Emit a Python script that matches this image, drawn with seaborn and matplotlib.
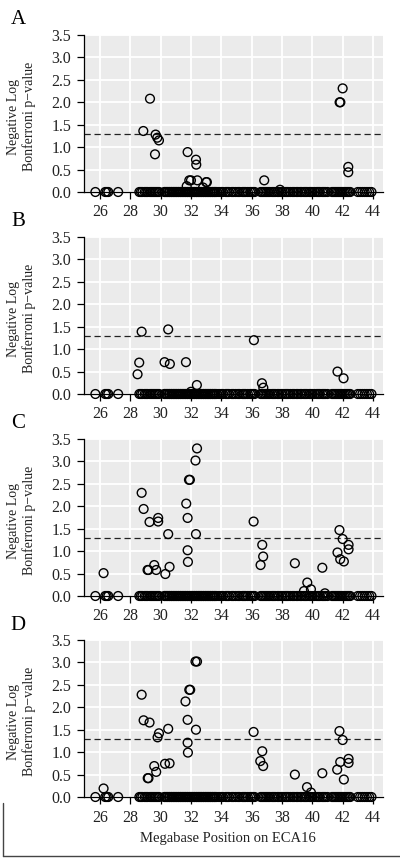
import matplotlib
matplotlib.use("Agg")
import matplotlib.pyplot as plt
from matplotlib.lines import Line2D
import seaborn as sns
import pandas as pd

# Markers with -log10 p = 0 (shared by all four panels), Mb on ECA16
zero_pos = [25.7, 26.35, 26.45, 26.55, 27.2,
            28.6, 28.7, 28.8, 28.95, 29.05, 29.15, 29.3, 29.4, 29.5, 29.6, 29.7, 29.8, 29.9,
            30.25, 30.3, 30.4, 30.45, 30.55, 30.6, 30.7, 30.75, 30.85, 30.9, 31.0, 31.05,
            31.15, 31.2, 31.3, 31.35, 31.45, 31.5, 31.6, 31.65, 31.75, 31.8, 31.9, 31.95,
            32.05, 32.1, 32.2, 32.25, 32.35, 32.4, 32.5, 32.55, 32.65, 32.7, 32.8, 32.85,
            32.95, 33.0, 33.1, 33.15, 33.25, 33.3, 33.4, 33.45, 33.55, 33.6, 33.7,
            33.85, 34.0, 34.1, 34.3, 34.4, 34.5, 34.7, 34.8, 34.95, 35.1, 35.2, 35.4,
            35.5, 35.6, 35.75, 35.9, 36.0, 36.1, 36.2,
            36.6, 36.7, 36.8, 36.9, 37.0, 37.1, 37.2, 37.35, 37.45, 37.55, 37.7, 37.8,
            37.95, 38.05, 38.2, 38.3, 38.4, 38.55, 38.7, 38.8, 38.95, 39.05, 39.2, 39.3,
            39.45, 39.55, 39.65, 39.8, 39.9, 40.0, 40.15, 40.3, 40.4, 40.5, 40.65, 40.75,
            40.85, 41.0, 41.3, 41.4, 41.5, 41.6, 41.7, 41.8, 41.9, 42.0, 42.1, 42.2,
            42.3, 42.4, 42.5,
            43.0, 43.15, 43.3, 43.45, 43.6, 43.75, 43.9]

# Non-zero markers per panel
a_x = [28.86, 29.30, 29.63, 29.67, 29.78, 29.89, 31.78, 31.72, 31.89, 32.0, 32.33, 32.35,
       32.42, 32.8, 33.0, 33.05, 36.83, 37.87, 41.80, 41.85, 42.0, 42.37, 42.37]
a_y = [1.36, 2.08, 0.84, 1.28, 1.21, 1.15, 0.89, 0.13, 0.26, 0.26, 0.72, 0.61,
       0.26, 0.10, 0.22, 0.22, 0.26, 0.05, 2.0, 2.0, 2.31, 0.56, 0.44]

b_x = [28.75, 28.59, 28.48, 30.50, 30.26, 30.61, 31.67, 32.39, 32.0, 36.15, 36.68, 36.77,
       41.66, 42.06]
b_y = [1.39, 0.70, 0.44, 1.44, 0.71, 0.67, 0.71, 0.20, 0.05, 1.20, 0.24, 0.14,
       0.50, 0.35]

c_x = [26.24, 28.75, 28.88, 29.14, 29.2, 29.27, 29.58, 29.71, 29.84, 29.84, 30.31, 30.50,
       30.59, 31.69, 31.78, 31.78, 31.80, 31.87, 31.93, 32.30, 32.40, 32.33, 36.13, 36.70,
       36.59, 36.76, 38.85, 39.67, 39.45, 39.91, 40.66, 40.83, 41.79, 41.66, 41.84, 42.0,
       42.08, 42.39, 42.39]
c_y = [0.51, 2.30, 1.94, 0.58, 0.58, 1.65, 0.69, 0.58, 1.74, 1.66, 0.49, 1.38,
       0.65, 2.06, 1.74, 1.02, 0.76, 2.59, 2.59, 3.02, 3.29, 1.38, 1.66, 1.14,
       0.69, 0.88, 0.73, 0.30, 0.11, 0.15, 0.63, 0.06, 1.47, 0.97, 0.82, 1.27,
       0.77, 1.14, 1.04]

d_x = [26.24, 28.75, 28.88, 29.15, 29.2, 29.27, 29.58, 29.71, 29.89, 29.8, 30.29, 30.59,
       30.50, 31.64, 31.78, 31.78, 31.80, 31.89, 31.95, 32.30, 32.40, 32.33, 36.13, 36.70,
       36.57, 36.76, 38.85, 39.65, 39.91, 40.66, 41.79, 41.64, 41.84, 42.0, 42.08, 42.39,
       42.39]
d_y = [0.19, 2.28, 1.71, 0.42, 0.42, 1.66, 0.69, 0.56, 1.42, 1.33, 0.74, 0.75,
       1.52, 2.13, 1.72, 1.21, 0.99, 2.39, 2.39, 3.02, 3.02, 1.50, 1.45, 1.02,
       0.80, 0.69, 0.50, 0.22, 0.10, 0.53, 1.47, 0.61, 0.78, 1.27, 0.39, 0.85,
       0.76]

panels = ["A", "B", "C", "D"]
panel_x = [a_x, b_x, c_x, d_x]
panel_y = [a_y, b_y, c_y, d_y]
threshold = 1.3
x_ticks = [26, 28, 30, 32, 34, 36, 38, 40, 42, 44]
y_ticks = [0.0, 0.5, 1.0, 1.5, 2.0, 2.5, 3.0, 3.5]

sns.set_style("darkgrid", {"axes.facecolor": "#EBEBEB", "grid.color": "white"})
plt.rcParams["font.family"] = ["Liberation Serif", "DejaVu Serif"]

W, H = 400, 858
fig = plt.figure(figsize=(W / 100, H / 100), dpi=100)
tops = [35, 237, 439, 640]

for i, name in enumerate(panels):
    top = tops[i]
    ax = fig.add_axes([84 / W, 1 - (top + 157) / H, 299 / W, 157 / H])
    df = pd.DataFrame({"pos": zero_pos + panel_x[i],
                       "nlp": [0.0] * len(zero_pos) + panel_y[i]})
    sns.scatterplot(data=df, x="pos", y="nlp", ax=ax, marker="o", s=40,
                    facecolor="none", edgecolor="black", linewidth=1.0,
                    clip_on=False, zorder=3)
    ax.axhline(threshold, color="#222222", lw=0.9, dashes=(5, 3), zorder=2)

    ax.set_xlim(24.95, 44.66)
    ax.set_ylim(0, 3.5)
    ax.set_xticks(x_ticks)
    ax.set_yticks(y_ticks)
    ax.set_yticklabels([f"{v:.1f}" for v in y_ticks])
    ax.grid(True, color="white", lw=1.3)
    for side in ["top", "right"]:
        ax.spines[side].set_visible(False)
    for side in ["left", "bottom"]:
        ax.spines[side].set_color("black")
        ax.spines[side].set_linewidth(0.9)
    ax.tick_params(bottom=True, left=True, direction="out", length=5, width=0.9,
                   color="black", labelcolor="#222222", labelsize=11.5, pad=4)

    ax.set_ylabel("Negative Log\nBonferroni p\u2212value", fontsize=10,
                  linespacing=1.2, color="#222222")
    ax.yaxis.set_label_coords(-0.16, 0.48)
    if name == "D":
        ax.set_xlabel("Megabase Position on ECA16", fontsize=10.5, color="#222222")
        ax.xaxis.set_label_coords(0.48, -0.22)
    else:
        ax.set_xlabel("")

    fig.text(18 / W, 1 - (top - 15) / H, name, ha="center", va="center",
             fontsize=15, color="black")

# partial frame at the lower left of the figure
fig.add_artist(Line2D([3 / W, 3 / W], [1 - 803 / H, 1 - 856 / H],
                      color="#444444", lw=1, transform=fig.transFigure))
fig.add_artist(Line2D([3 / W, 1.0], [1 - 856 / H, 1 - 856 / H],
                      color="#444444", lw=1, transform=fig.transFigure))

fig.savefig("out.png", dpi=100)
